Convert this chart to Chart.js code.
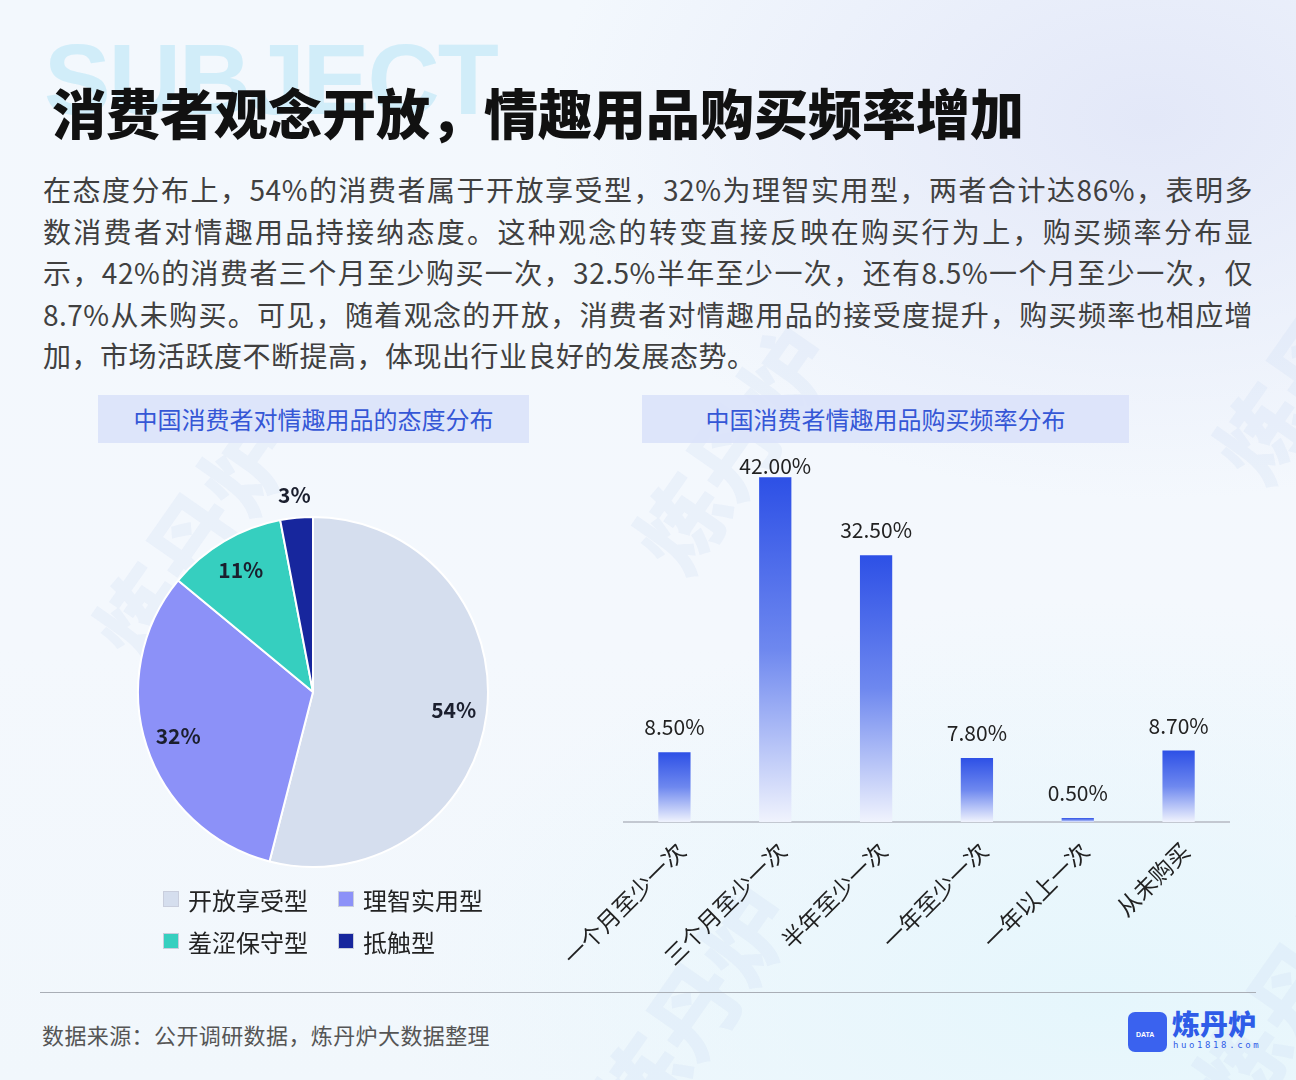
<!DOCTYPE html>
<html><head><meta charset="utf-8">
<script src="https://cdn.jsdelivr.net/npm/chart.js@4.4.1/dist/chart.umd.min.js"></script>
<style>
html,body{margin:0;padding:0;}
body{width:1296px;height:1080px;position:relative;overflow:hidden;font-family:"Noto Sans CJK SC","Noto Sans",sans-serif;
background:
 radial-gradient(ellipse 600px 380px at 1150px 120px, rgba(226,231,248,0.95), rgba(226,231,248,0) 100%),
 radial-gradient(ellipse 700px 400px at 1100px 1000px, rgba(228,246,252,0.9), rgba(228,246,252,0) 100%),
 linear-gradient(180deg,#f3f8fd 0%,#f4f8fd 60%,#f1f7fc 100%);}
.abs{position:absolute;}
.wm{position:absolute;color:rgba(205,220,242,0.25);font-weight:900;white-space:nowrap;transform-origin:left top;}
.sub{left:44px;top:22px;font-family:"Liberation Sans",Arial,sans-serif;font-weight:700;font-size:100px;color:rgba(180,228,246,0.55);letter-spacing:-2px;}
.title{left:52px;top:82px;font-size:54px;font-weight:900;color:#111;line-height:60px;white-space:nowrap;}
.para{left:43px;top:169px;width:1210px;font-size:28px;color:#404040;}
.para div{height:41.5px;line-height:41.5px;text-align:justify;text-align-last:justify;letter-spacing:0.5px;white-space:nowrap;}
.para div.last{text-align-last:left;}
.box{background:rgba(218,226,250,0.9);color:#3557d6;font-size:24px;text-align:center;line-height:48px;height:48px;}
.leg{font-size:24px;color:#222;display:flex;align-items:center;height:30px;}
.sq{width:14px;height:14px;border:1px solid #c9cedd;margin-right:9px;box-sizing:content-box;}
</style></head>
<body>
<div class="wm" style="left:60px;top:610px;font-size:90px;transform:rotate(-55deg);">炼丹炉</div>
<div class="wm" style="left:600px;top:520px;font-size:90px;transform:rotate(-55deg);">炼丹炉</div>
<div class="wm" style="left:1180px;top:430px;font-size:90px;transform:rotate(-55deg);">炼丹炉</div>
<div class="wm" style="left:560px;top:1080px;font-size:90px;transform:rotate(-55deg);">炼丹炉</div>
<div class="wm" style="left:1160px;top:1060px;font-size:90px;transform:rotate(-55deg);">炼丹炉</div>
<div class="abs sub">SUBJECT</div>
<div class="abs title">消费者观念开放，情趣用品购买频率增加</div>
<div class="abs para">
<div>在态度分布上，54%的消费者属于开放享受型，32%为理智实用型，两者合计达86%，表明多</div>
<div>数消费者对情趣用品持接纳态度。这种观念的转变直接反映在购买行为上，购买频率分布显</div>
<div>示，42%的消费者三个月至少购买一次，32.5%半年至少一次，还有8.5%一个月至少一次，仅</div>
<div>8.7%从未购买。可见，随着观念的开放，消费者对情趣用品的接受度提升，购买频率也相应增</div>
<div class="last">加，市场活跃度不断提高，体现出行业良好的发展态势。</div>
</div>
<div class="abs box" style="left:98px;top:395px;width:431px;">中国消费者对情趣用品的态度分布</div>
<div class="abs box" style="left:642px;top:395px;width:487px;">中国消费者情趣用品购买频率分布</div>
<canvas id="pie" class="abs" style="left:113px;top:466px;" width="400" height="452"></canvas>
<canvas id="bar" class="abs" style="left:540px;top:440px;" width="720" height="542"></canvas>
<div id="legend"></div>
<div class="abs" style="left:40px;top:992px;width:1216px;height:1px;background:#a9aeb6;"></div>
<div class="abs" style="left:42px;top:1018px;font-size:22px;letter-spacing:0.4px;color:#555;">数据来源：公开调研数据，炼丹炉大数据整理</div>
<div class="abs" style="left:1128px;top:1012px;width:39px;height:40px;border-radius:7px;background:#3a62ef;"></div>
<div class="abs" style="left:1136px;top:1031px;font-size:7px;color:#fff;font-weight:700;font-family:'Liberation Sans',Arial;">DATA</div>
<div class="abs" style="left:1172px;top:1006px;font-size:28px;font-weight:900;color:#2f5ce8;line-height:34px;">炼丹炉</div>
<div class="abs" style="left:1173px;top:1040px;font-size:9px;color:#2f5ce8;letter-spacing:2.6px;font-family:'DejaVu Sans Mono',monospace;">huo1818.com</div>
<script>
const pieLabels = ['开放享受型','理智实用型','羞涩保守型','抵触型'];
const pieValues = [54, 32, 11, 3];
const pieColors = ['#d5deee','#8c91f8','#36cfbf','#17269d'];
const barCategories = ['一个月至少一次','三个月至少一次','半年至少一次','一年至少一次','一年以上一次','从未购买'];
const barValues = [8.5, 42.0, 32.5, 7.8, 0.5, 8.7];

// legend from arrays
const legPos = [[163,884],[338,884],[163,926],[338,926]];
const legEl = document.getElementById('legend');
pieLabels.forEach((l,i)=>{
  const d=document.createElement('div');
  d.className='abs leg';
  d.style.left=legPos[i][0]+'px'; d.style.top=legPos[i][1]+'px';
  d.innerHTML='<span class="sq" style="background:'+pieColors[i]+'"></span><span>'+l+'</span>';
  legEl.appendChild(d);
});

const FONT = '"Noto Sans CJK SC","Noto Sans",sans-serif';

const pieLabelPlugin = {
  id:'pieLabels',
  afterDatasetsDraw(chart){
    const ctx=chart.ctx; const meta=chart.getDatasetMeta(0);
    ctx.save();
    ctx.font='600 21px '+FONT; ctx.fillStyle='#1b1f2e';
    ctx.textAlign='center'; ctx.textBaseline='middle';
    meta.data.forEach((arc,i)=>{
      const p=arc.getProps(['x','y','startAngle','endAngle','outerRadius'],true);
      const mid=(p.startAngle+p.endAngle)/2;
      const r = pieValues[i] < 5 ? p.outerRadius+23 : p.outerRadius*0.81;
      ctx.fillText(pieValues[i]+'%', p.x+Math.cos(mid)*r, p.y+Math.sin(mid)*r);
    });
    ctx.restore();
  }
};

new Chart(document.getElementById('pie'),{
  type:'pie',
  data:{labels:pieLabels,datasets:[{data:pieValues,backgroundColor:pieColors,borderColor:'#ffffff',borderWidth:2}]},
  options:{responsive:false,animation:false,
    layout:{padding:{left:24,right:24,top:50,bottom:50}},
    plugins:{legend:{display:false},tooltip:{enabled:false}}},
  plugins:[pieLabelPlugin]
});

const barLabelPlugin = {
  id:'barLabels',
  afterDatasetsDraw(chart){
    const ctx=chart.ctx; const meta=chart.getDatasetMeta(0); const area=chart.chartArea;
    ctx.save();
    ctx.font='21px '+FONT; ctx.fillStyle='#222';
    ctx.textAlign='center'; ctx.textBaseline='middle';
    meta.data.forEach((bar,i)=>{
      const y=Math.max(bar.y-25, area.top+14);
      ctx.fillText(barValues[i].toFixed(2)+'%', bar.x, y);
    });
    ctx.restore();
  }
};

new Chart(document.getElementById('bar'),{
  type:'bar',
  data:{labels:barCategories,datasets:[{data:barValues,
    backgroundColor:(c)=>{
      const chart=c.chart; const area=chart.chartArea;
      if(!area || c.raw===undefined) return '#3355e8';
      const top=chart.scales.y.getPixelForValue(c.raw);
      const bottom=chart.scales.y.getPixelForValue(0);
      if(bottom-top<4) return '#5474ec';
      const g=chart.ctx.createLinearGradient(0,top,0,bottom);
      g.addColorStop(0,'#2d50e6'); g.addColorStop(0.5,'#6e88ef'); g.addColorStop(1,'#f0f3fd');
      return g;
    },
    borderWidth:0,categoryPercentage:1,barPercentage:0.32}]},
  options:{responsive:false,animation:false,
    layout:{padding:{left:84,right:31,top:12.5,bottom:0}},
    scales:{
      y:{display:false,min:0,max:45},
      x:{grid:{display:false},border:{display:true,color:'#c3c8d1',width:2},
        ticks:{color:'#222',font:{size:23,family:FONT},minRotation:45,maxRotation:45,autoSkip:false,padding:7,labelOffset:7},
        afterFit(s){s.height=160;}}
    },
    plugins:{legend:{display:false},tooltip:{enabled:false}}},
  plugins:[barLabelPlugin]
});
</script>
</body></html>
